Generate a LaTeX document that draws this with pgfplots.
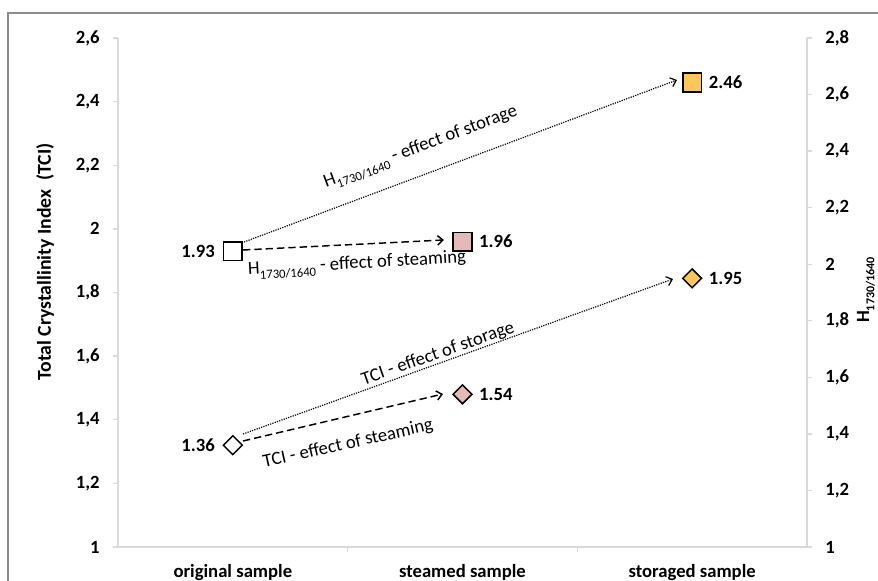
\documentclass[border=0pt]{standalone}
\usepackage{fontspec}
\setmainfont{Carlito}
\usepackage{pgfplots}
\pgfplotsset{compat=1.18}
\usetikzlibrary{arrows.meta}
\definecolor{axgray}{RGB}{217,217,217}
\definecolor{framegray}{RGB}{140,140,140}
\definecolor{pinkf}{RGB}{230,185,184}
\definecolor{goldf}{RGB}{250,199,95}
\newcommand\sub[2]{\raisebox{-0.28em}{\fontsize{#1}{#1}\selectfont #2}}
\begin{document}
\begin{tikzpicture}
\pgfplotsset{
 common/.style={
  scale only axis, width=516.75pt, height=381.75pt,
  at={(0,0)}, anchor=south west,
  xmin=0, xmax=3, ymin=1,
  /pgf/number format/assume math mode=true,
  /pgf/number format/use comma,
  tick label style={font=\fontsize{14}{16}\selectfont\bfseries, text=black},
  tick align=outside,
  major tick length=3.75pt,
  tick style={draw=axgray, line width=1pt},
  axis line style={draw=axgray, line width=1pt, -},
  clip=false,
 },
 vlab/.style={every node near coord/.append style={anchor=#1, inner sep=0pt, font=\fontsize{14}{16}\selectfont\bfseries, text=black}},
}
\begin{axis}[common,
  ymax=2.6, ytick={1,1.2,1.4,1.6,1.8,2,2.2,2.4,2.6},
  axis x line*=bottom, axis y line*=left,
  x axis line style={line width=1.6pt},
  xtick={0.5,1.5,2.5},
  xticklabels={original sample, steamed sample, storaged sample},
  major x tick style={draw=none},
  minor xtick={1,2},
  minor x tick style={draw=axgray, line width=1pt},
  minor tick length=3.5pt,
  xticklabel style={font=\fontsize{14}{16}\selectfont\bfseries, yshift=-6pt},
  yticklabel style={xshift=-6.5pt},
]
\addplot[only marks, color=black, mark=square*, mark size=7pt,
  mark options={fill=white, draw=black, line width=1.1pt},
  nodes near coords, point meta=explicit symbolic,
  vlab=east, every node near coord/.append style={xshift=-13pt}]
  coordinates {(0.5,1.93) [1.93]};
\addplot[only marks, color=black, mark=square*, mark size=7pt,
  mark options={fill=pinkf, draw=black, line width=1.1pt},
  nodes near coords, point meta=explicit symbolic,
  vlab=west, every node near coord/.append style={xshift=12pt}]
  coordinates {(1.5,1.96) [1.96]};
\addplot[only marks, color=black, mark=square*, mark size=7pt,
  mark options={fill=goldf, draw=black, line width=1.1pt},
  nodes near coords, point meta=explicit symbolic,
  vlab=west, every node near coord/.append style={xshift=12pt}]
  coordinates {(2.5,2.46) [2.46]};
\end{axis}
\begin{axis}[common,
  ymax=2.8, ytick={1,1.2,1.4,1.6,1.8,2,2.2,2.4,2.6,2.8},
  axis y line*=right, axis x line=none,
  yticklabel style={xshift=6.5pt},
]
\addplot[only marks, color=black, mark=square*, mark size=5pt,
  mark options={rotate=45, fill=white, draw=black, line width=1.1pt},
  nodes near coords, point meta=explicit symbolic,
  vlab=east, every node near coord/.append style={xshift=-13pt}]
  coordinates {(0.5,1.36) [1.36]};
\addplot[only marks, color=black, mark=square*, mark size=5pt,
  mark options={rotate=45, fill=pinkf, draw=black, line width=1.1pt},
  nodes near coords, point meta=explicit symbolic,
  vlab=west, every node near coord/.append style={xshift=12pt}]
  coordinates {(1.5,1.54) [1.54]};
\addplot[only marks, color=black, mark=square*, mark size=5pt,
  mark options={rotate=45, fill=goldf, draw=black, line width=1.1pt},
  nodes near coords, point meta=explicit symbolic,
  vlab=west, every node near coord/.append style={xshift=12pt}]
  coordinates {(2.5,1.95) [1.95]};
\end{axis}
\pgfresetboundingbox
\begin{scope}[x=0.75pt, y=-0.75pt, shift={(-118,-547)}]
\useasboundingbox (0,0) rectangle (878,581);
\draw[framegray, line width=1.1pt] (8,620) -- (8,13) -- (900,13);
\tikzset{
  dotl/.style={line width=0.9pt, dash pattern=on 0.9pt off 0.9pt, -{Straight Barb[length=4pt,width=7pt,line width=0.9pt]}},
  dashl/.style={line width=1.1pt, dash pattern=on 5.5pt off 3pt, -{Straight Barb[length=4pt,width=7pt,line width=1.1pt]}},
  ann/.style={font=\fontsize{14}{16}\selectfont, inner sep=0pt},
}
% square arrows
\draw[dashl] (243,250) -- (444,240);
\draw[dotl] (244,242) -- (677,80);
% diamond arrows
\draw[dashl] (243,441) -- (443,394);
\draw[dotl] (243,434) -- (673,279);
% annotation texts
\node[ann, rotate=20.5] at (421,148) {H\sub{9.5}{1730/1640} - effect of storage};
\node[ann, rotate=3.2] at (357,265) {H\sub{9.5}{1730/1640} - effect of steaming};
\node[ann, rotate=19.3] at (438,354) {TCI - effect of storage};
\node[ann, rotate=12.5] at (348,444) {TCI - effect of steaming};
% axis titles
\node[rotate=90, font=\fontsize{14.8}{16}\selectfont\bfseries] at (45,262) {Total Crystallinity Index\ \ (TCI)};
\node[rotate=90, font=\fontsize{14}{16}\selectfont\bfseries] at (866,290) {H\sub{9}{1730/1640}};
\end{scope}
\end{tikzpicture}
\end{document}
